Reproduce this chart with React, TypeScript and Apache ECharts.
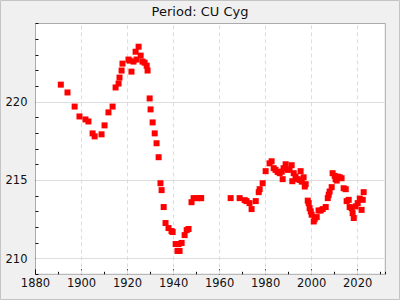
import React, { useEffect, useRef } from "react";
import * as echarts from "echarts";

const title = "Period: CU Cyg";

const years = [
  1891.0, 1893.9, 1897.0, 1899.1, 1901.7, 1903.0, 1904.8, 1905.7, 1908.7, 1910.0,
  1911.7, 1913.5, 1914.8, 1916.1, 1916.5, 1917.4, 1917.8, 1920.4, 1920.9, 1922.6,
  1921.7, 1923.9, 1923.5, 1924.8, 1925.7, 1926.5, 1927.4, 1928.3, 1928.7, 1929.6,
  1930.0, 1930.9, 1931.8, 1932.6, 1933.5, 1934.3, 1934.8, 1935.7, 1936.5, 1937.8,
  1939.1, 1939.6, 1940.9, 1941.7, 1942.6, 1942.2, 1943.5, 1944.8, 1945.7, 1946.5,
  1947.8, 1948.7, 1950.0, 1951.7, 1952.0, 1964.8, 1968.7, 1970.9, 1971.7, 1973.0,
  1973.9, 1975.7, 1977.0, 1977.4, 1978.7, 1980.0, 1981.7, 1982.6, 1983.5, 1984.3,
  1985.2, 1986.1, 1987.0, 1987.4, 1987.8, 1988.7, 1989.6, 1990.4, 1991.3, 1992.2,
  1991.6, 1993.0, 1993.9, 1994.8, 1995.2, 1995.7, 1996.5, 1997.0, 1997.4, 1998.3,
  1998.7, 1999.1, 1999.6, 2000.0, 2000.9, 2001.3, 2002.2, 2003.0, 2003.9, 2004.8,
  2006.1, 2007.0, 2007.4, 2007.8, 2008.7, 2009.1, 2010.0, 2010.4, 2010.9, 2011.3,
  2012.2, 2013.0, 2013.9, 2014.8, 2015.2, 2016.1, 2016.5, 2017.4, 2017.8, 2018.3,
  2019.1, 2020.0, 2020.9, 2021.7, 2022.2, 2022.6,
];

const periods = [
  221.1, 220.6, 219.7, 219.07, 218.88, 218.75, 217.99, 217.8, 217.93, 218.5,
  219.33, 219.7, 220.92, 221.17, 221.55, 222.0, 222.44, 222.7, 222.63, 222.57,
  221.93, 222.7, 223.2, 223.52, 222.95, 222.57, 222.5, 222.31, 222.0, 220.22,
  219.52, 218.69, 217.99, 217.36, 216.47, 214.81, 214.37, 213.29, 212.27, 211.95,
  211.76, 211.7, 210.93, 210.49, 210.49, 210.93, 211.0, 211.5, 211.82, 211.89,
  213.6, 213.86, 213.86, 213.86, 213.86, 213.86, 213.86, 213.73, 213.67, 213.54,
  213.16, 213.67, 214.24, 214.43, 214.81, 215.58, 216.08, 216.21, 215.77, 215.66,
  215.53, 215.45, 215.55, 215.07, 215.77, 216.02, 215.66, 215.7, 215.96, 215.45,
  214.94, 215.23, 215.07, 215.02, 215.58, 214.91, 215.19, 214.6, 214.75, 213.7,
  213.54, 213.22, 213.01, 212.8, 212.37, 212.52, 212.65, 213.07, 213.07, 213.16,
  213.29, 213.86, 214.07, 214.28, 214.56, 215.45, 215.28, 215.07, 214.98, 215.23,
  215.19, 215.13, 214.49, 214.43, 213.67, 213.75, 213.29, 213.22, 212.9, 212.59,
  213.33, 213.54, 213.83, 213.11, 213.75, 214.24,
];

const xMin = 1880;
const xMax = 2032;
const yMin = 209;
const yMax = 225;
const yMajorTicks = [210, 215, 220];
const yMinorTicks = [209, 210, 211, 212, 213, 214, 215, 216, 217, 218, 219, 220, 221, 222, 223, 224, 225];
const xGridLines = [1900, 1920, 1940, 1960, 1980, 2000, 2020];

export default function App() {
  const ref = useRef<HTMLDivElement>(null);
  useEffect(() => {
    if (!ref.current) return;
    const chart = echarts.init(ref.current, undefined, { renderer: "svg" });
    const font = "DejaVu Sans";
    const data = years.map((y, i) => [y, periods[i]]);
    chart.setOption({
      animation: false,
      backgroundColor: "#f0f0f0",
      title: {
        text: title,
        left: "center",
        top: 4.5,
        padding: 0,
        textStyle: { fontFamily: font, fontSize: 13, fontWeight: "normal", color: "#111" },
      },
      grid: {
        left: 35.5,
        right: 14.7,
        top: 23.5,
        bottom: 25.7,
        show: true,
        backgroundColor: "#ffffff",
        borderColor: "#aaaaaa",
        borderWidth: 1,
      },
      graphic: [
        {
          type: "rect",
          shape: { x: 0.5, y: 0.5, width: 399, height: 299 },
          style: { fill: "none", stroke: "#c4c4c4", lineWidth: 1 },
          silent: true,
          z: 100,
        },
      ],
      xAxis: [
        {
          type: "value",
          min: xMin,
          max: xMax,
          interval: 20,
          axisLine: { show: false },
          axisTick: { show: true, inside: true, length: 5, lineStyle: { color: "#111" } },
          axisLabel: {
            show: true,
            margin: 3,
            showMaxLabel: false,
            formatter: (v: number) => String(v),
            fontFamily: font,
            fontSize: 11.5,
            color: "#111",
          },
          splitLine: { show: false },
        },
        {
          type: "value",
          min: xMin,
          max: xMax,
          interval: 10,
          position: "bottom",
          axisLine: { show: false },
          axisTick: { show: true, inside: true, length: 2.5, lineStyle: { color: "#111" } },
          axisLabel: { show: false },
          splitLine: { show: false },
        },
      ],
      yAxis: [
        {
          type: "value",
          min: yMin,
          max: yMax,
          axisLine: { show: false },
          axisTick: {
            show: true,
            inside: true,
            length: 5,
            customValues: yMajorTicks,
            lineStyle: { color: "#111" },
          },
          axisLabel: {
            show: true,
            margin: 8,
            customValues: yMajorTicks,
            formatter: (v: number) => String(v),
            fontFamily: font,
            fontSize: 11.5,
            color: "#111",
          },
          splitLine: { show: false },
        },
        {
          type: "value",
          min: yMin,
          max: yMax,
          position: "left",
          axisLine: { show: false },
          axisTick: {
            show: true,
            inside: true,
            length: 3,
            customValues: yMinorTicks,
            lineStyle: { color: "#111" },
          },
          axisLabel: { show: false },
          splitLine: { show: false },
        },
      ],
      series: [
        {
          type: "scatter",
          xAxisIndex: 0,
          yAxisIndex: 0,
          data: [],
          silent: true,
          markLine: {
            silent: true,
            symbol: "none",
            label: { show: false },
            z: 1,
            data: [
              ...yMajorTicks.map((v) => ({
                yAxis: v,
                lineStyle: { color: "#dddddd", type: "solid", width: 1 },
              })),
              ...xGridLines.map((v) => ({
                xAxis: v,
                lineStyle: { color: "#dddddd", type: [4, 3], width: 1 },
              })),
            ],
          },
        },
        {
          type: "scatter",
          xAxisIndex: 0,
          yAxisIndex: 0,
          symbol: "rect",
          symbolSize: 6,
          z: 10,
          itemStyle: { color: "#ff0000", opacity: 1 },
          data,
        },
      ],
    });
    return () => chart.dispose();
  }, []);
  return (
    <div
      ref={ref}
      style={{ position: "absolute", left: 0, top: 0, width: 400, height: 300 }}
    />
  );
}
